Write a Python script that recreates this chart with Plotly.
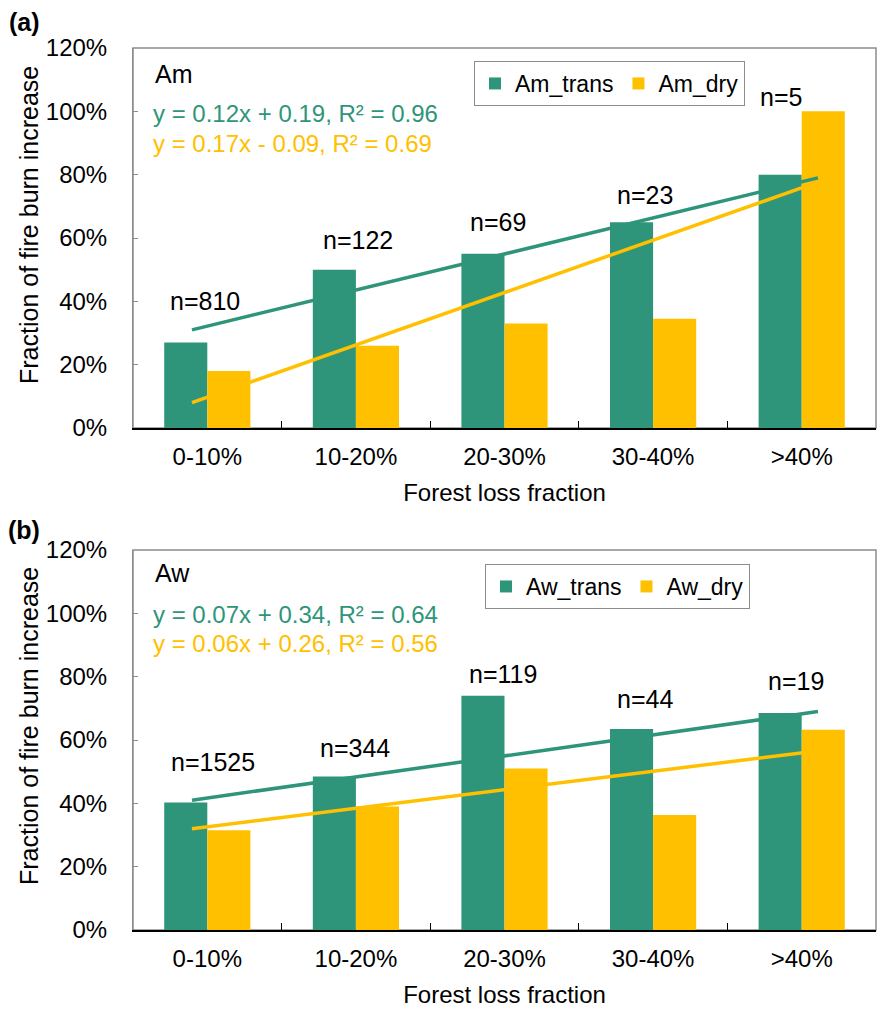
import numpy as np
import plotly.graph_objects as go

# ---- data -----------------------------------------------------------------
categories = ["0-10%", "10-20%", "20-30%", "30-40%", ">40%"]

am_trans = [0.27, 0.50, 0.55, 0.65, 0.80]
am_dry = [0.18, 0.26, 0.33, 0.345, 1.00]
aw_trans = [0.403, 0.485, 0.74, 0.635, 0.685]
aw_dry = [0.315, 0.39, 0.51, 0.363, 0.632]

am_counts = [810, 122, 69, 23, 5]
aw_counts = [1525, 344, 119, 44, 19]

# linear trends (slope, intercept, R²) over the class rank 1..5
am_trans_fit = (0.12, 0.19, 0.96)
am_dry_fit = (0.17, -0.09, 0.69)
aw_trans_fit = (0.07, 0.34, 0.64)
aw_dry_fit = (0.06, 0.26, 0.56)

y_ticks = [0, 0.2, 0.4, 0.6, 0.8, 1.0, 1.2]

# ---- style ----------------------------------------------------------------
GREEN = "#2F957A"
GOLD = "#FFC000"
GREY = "#8C8C8C"
FONT = "Liberation Sans, Arial, sans-serif"

W, H = 881, 1012
L, R, T, B = 133, 5, 48, 82
PW, PH = W - L - R, H - T - B
PANEL_H = 380


def px_x(px):
    return (px - L) / PW


def px_y(py):
    return 1 - (py - T) / PH


dom_a = [px_y(T + PANEL_H), 1.0]
dom_b = [0.0, PANEL_H / PH]


def eq_text(fit):
    s, b, r2 = fit
    sign = "+" if b >= 0 else "-"
    return f"y = {s:.2f}x {sign} {abs(b):.2f}, R² = {r2:.2f}"


ranks = np.arange(1, len(categories) + 1)

fig = go.Figure()

panels = [
    dict(name="Am", trans=am_trans, dry=am_dry, counts=am_counts,
         fits=(am_trans_fit, am_dry_fit), xa="x", ya="y",
         line_axes=("x3", "x4"), legend="legend"),
    dict(name="Aw", trans=aw_trans, dry=aw_dry, counts=aw_counts,
         fits=(aw_trans_fit, aw_dry_fit), xa="x2", ya="y2",
         line_axes=("x5", "x6"), legend="legend2"),
]

for p in panels:
    fig.add_trace(go.Bar(x=categories, y=p["trans"], name=f"{p['name']}_trans",
                         marker=dict(color=GREEN, line=dict(width=0)),
                         xaxis=p["xa"], yaxis=p["ya"], legend=p["legend"]))
    fig.add_trace(go.Bar(x=categories, y=p["dry"], name=f"{p['name']}_dry",
                         marker=dict(color=GOLD, line=dict(width=0)),
                         xaxis=p["xa"], yaxis=p["ya"], legend=p["legend"]))
    for fit, col, lx in zip(p["fits"], (GREEN, GOLD), p["line_axes"]):
        s, b, _ = fit
        fig.add_trace(go.Scatter(x=ranks, y=s * ranks + b, mode="lines",
                                 line=dict(color=col, width=3.5),
                                 xaxis=lx, yaxis=p["ya"], showlegend=False,
                                 hoverinfo="skip"))

common_x = dict(type="category", tickson="boundaries", ticks="inside", ticklen=7,
                tickcolor="black", showline=True, linecolor="black", linewidth=1.5,
                showgrid=False, tickfont=dict(size=24, color="black"),
                ticklabelstandoff=6,
                title=dict(text="Forest loss fraction", font=dict(size=24, color="black"),
                           standoff=16))
common_y = dict(range=[0, 1.2], tickvals=y_ticks, tickformat=".0%", ticks="inside",
                ticklen=5, tickcolor=GREY, showline=True, linecolor=GREY, linewidth=1,
                showgrid=False, zeroline=False, tickfont=dict(size=24, color="black"),
                ticklabelstandoff=20)

# hidden numeric axes carrying the trend lines
trans_range = [0.623, 5.371]
dry_range = [0.614, 5.478]
hidden = dict(visible=False, showgrid=False, zeroline=False)

legend_style = dict(xanchor="left", yanchor="top", orientation="h",
                    bordercolor=GREY, borderwidth=1, bgcolor="white",
                    font=dict(size=23, color="black"), itemwidth=30,
                    traceorder="normal")

fig.update_layout(
    width=W, height=H,
    margin=dict(l=L, r=R, t=T, b=B),
    paper_bgcolor="white", plot_bgcolor="white",
    font=dict(family=FONT, color="black"),
    barmode="group", bargap=0.42, bargroupgap=0,
    xaxis=dict(domain=[0, 1], anchor="y", **common_x),
    yaxis=dict(domain=dom_a, anchor="x", **common_y),
    xaxis2=dict(domain=[0, 1], anchor="y2", **common_x),
    yaxis2=dict(domain=dom_b, anchor="x2", **common_y),
    xaxis3=dict(overlaying="x", anchor="y", range=trans_range, **hidden),
    xaxis4=dict(overlaying="x", anchor="y", range=dry_range, **hidden),
    xaxis5=dict(overlaying="x2", anchor="y2", range=trans_range, **hidden),
    xaxis6=dict(overlaying="x2", anchor="y2", range=dry_range, **hidden),
    legend=dict(x=px_x(474), y=px_y(61), **legend_style),
    legend2=dict(x=px_x(485), y=px_y(564), **legend_style),
    showlegend=True,
)

# plot-area frames (grey), bottom axis line stays black on top
for xa, ya in (("x", "y"), ("x2", "y2")):
    fig.add_shape(type="rect", xref=f"{xa} domain", yref=f"{ya} domain",
                  x0=0, x1=1, y0=0, y1=1, line=dict(color=GREY, width=1.5),
                  layer="below")

ann = []
# panel letters
ann.append(dict(text="<b>(a)</b>", x=px_x(7), y=px_y(22), xref="paper", yref="paper",
                xanchor="left", yanchor="middle", showarrow=False,
                font=dict(size=25, color="black")))
ann.append(dict(text="<b>(b)</b>", x=px_x(6), y=px_y(530), xref="paper", yref="paper",
                xanchor="left", yanchor="middle", showarrow=False,
                font=dict(size=25, color="black")))

# y-axis titles
for yc in (225, 726):
    ann.append(dict(text="Fraction of fire burn increase", x=px_x(29), y=px_y(yc),
                    xref="paper", yref="paper", xanchor="center", yanchor="middle",
                    textangle=-90, showarrow=False, font=dict(size=25, color="black")))

# climate labels and trend equations
label_rows = [
    ("Am", 74, am_trans_fit, 114, am_dry_fit, 143),
    ("Aw", 573, aw_trans_fit, 614, aw_dry_fit, 643),
]
for name, y_name, f1, y1, f2, y2 in label_rows:
    ann.append(dict(text=name, x=px_x(153), y=px_y(y_name), xref="paper", yref="paper",
                    xanchor="left", yanchor="middle", showarrow=False,
                    font=dict(size=25, color="black")))
    ann.append(dict(text=eq_text(f1), x=px_x(151), y=px_y(y1), xref="paper", yref="paper",
                    xanchor="left", yanchor="middle", showarrow=False,
                    font=dict(size=24, color=GREEN)))
    ann.append(dict(text=eq_text(f2), x=px_x(151), y=px_y(y2), xref="paper", yref="paper",
                    xanchor="left", yanchor="middle", showarrow=False,
                    font=dict(size=24, color=GOLD)))

# sample-size labels
n_pos_a = [(0.40, -2), (0.594, 2), (0.65, -7), (0.736, -8), (1.045, -21)]
n_pos_b = [(0.53, 6), (0.575, -1), (0.808, -2), (0.729, -8), (0.786, -6)]
for counts, pos, xa, ya in ((am_counts, n_pos_a, "x", "y"), (aw_counts, n_pos_b, "x2", "y2")):
    for cat, n, (yv, dx) in zip(categories, counts, pos):
        ann.append(dict(text=f"n={n}", x=cat, y=yv, xref=xa, yref=ya, xshift=dx,
                        xanchor="center", yanchor="middle", showarrow=False,
                        font=dict(size=25, color="black")))

fig.update_layout(annotations=ann)

fig.write_html("out.html")
